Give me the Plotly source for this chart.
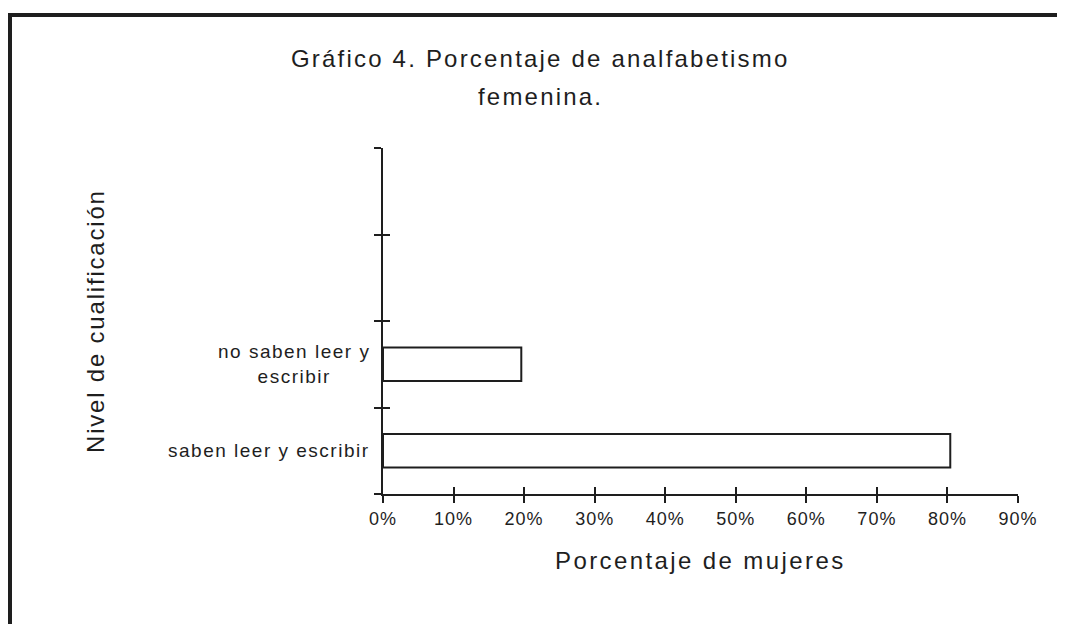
import plotly.graph_objects as go

# ---- data ----
categories = ["saben leer y escribir", "no saben leer y<br>escribir"]
values = [80.4, 19.6]
n_slots = 4  # category slots on the y axis (two left empty)
x_ticks = [0, 10, 20, 30, 40, 50, 60, 70, 80, 90]
x_tick_labels = [f"{v}%" for v in x_ticks]
title_lines = ["Gráfico 4. Porcentaje de analfabetismo", "femenina."]
x_title = "Porcentaje de mujeres"
y_title = "Nivel de cualificación"

FONT = "Liberation Sans, Arial, sans-serif"
INK = "#1e1e1e"


def spaced(text, px):
    return f'<span style="letter-spacing:{px}px">{text}</span>'


y_pos = list(range(len(categories)))
boundaries = [i - 0.5 for i in range(n_slots + 1)]

# page body has an 8px margin: the figure is drawn 8px in from the corner
OFF = 8
W, H = 1065 - OFF, 624 - OFF
ML, MT = 383 - OFF, 148 - OFF
MR = W - (1018 - OFF)
MB = H - (494 - OFF)
PW, PH = W - ML - MR, H - MT - MB

fig = go.Figure()
fig.add_trace(go.Bar(
    x=values, y=y_pos, orientation="h", width=0.39,
    marker=dict(color="white", line=dict(color=INK, width=2)),
    hoverinfo="skip", showlegend=False,
))
# invisible trace on overlay axes so their inward ticks are drawn
fig.add_trace(go.Scatter(x=[], y=[], xaxis="x2", yaxis="y2",
                         showlegend=False, hoverinfo="skip"))

axis_common = dict(showgrid=False, zeroline=False, tickcolor=INK,
                   tickwidth=2, ticklen=7)

fig.update_layout(
    width=W, height=H,
    margin=dict(l=ML, r=MR, t=MT, b=MB, pad=0),
    paper_bgcolor="white", plot_bgcolor="white",
    font=dict(family=FONT, color=INK, size=18),
    xaxis=dict(range=[0, 90], tickvals=x_ticks,
               ticktext=[spaced(t, 1) for t in x_tick_labels],
               ticks="outside", showline=True, linecolor=INK, linewidth=2,
               tickfont=dict(size=18, family=FONT, color=INK),
               ticklabelstandoff=0, anchor="y", **axis_common),
    xaxis2=dict(range=[0, 90], overlaying="x", anchor="y2", side="bottom",
                tickvals=x_ticks, ticks="inside", showticklabels=False,
                showline=False, **axis_common),
    yaxis=dict(range=[boundaries[0], boundaries[-1]], tickvals=boundaries,
               ticks="outside", showticklabels=False, showline=True,
               linecolor=INK, linewidth=2, anchor="x", **axis_common),
    yaxis2=dict(range=[boundaries[0], boundaries[-1]], overlaying="y",
                anchor="x2", side="left", tickvals=boundaries, ticks="inside",
                showticklabels=False, showline=False, **axis_common),
)

ann = []
# category labels
for yi, cat in zip(y_pos, categories):
    ann.append(dict(text=spaced(cat, 1.5), x=0, xref="paper", xanchor="right",
                    xshift=-11, y=yi, yref="y", yanchor="middle",
                    align="center", showarrow=False,
                    font=dict(size=19, family=FONT, color=INK)))
# title lines
title_cx = 540 - 383
for line, cy in zip(title_lines, [58, 96]):
    ann.append(dict(text=spaced(line, 2.2), x=0, xref="paper", xshift=title_cx,
                    xanchor="center", y=1, yref="paper", yshift=148 - cy,
                    yanchor="middle", showarrow=False,
                    font=dict(size=24, family=FONT, color=INK)))
# axis titles
ann.append(dict(text=spaced(x_title, 2.4), x=0.5, xref="paper", xanchor="center",
                y=0, yref="paper", yanchor="middle", yshift=-(560 - 494),
                showarrow=False, font=dict(size=24, family=FONT, color=INK)))
ann.append(dict(text=spaced(y_title, 1.8), x=0, xref="paper", xshift=95 - 383,
                xanchor="center", y=0.5, yref="paper", yanchor="middle",
                textangle=-90, showarrow=False,
                font=dict(size=24, family=FONT, color=INK)))
fig.update_layout(annotations=ann)


# scanned page frame (left and top rules), positions in page pixels
def px_x(p):
    return (p - OFF - ML) / PW


def px_y(p):
    return (H - MB - (p - OFF)) / PH


fig.add_shape(type="line", xref="paper", yref="paper",
              x0=px_x(10), x1=px_x(10), y0=px_y(13), y1=px_y(640),
              line=dict(color=INK, width=4))
fig.add_shape(type="line", xref="paper", yref="paper",
              x0=px_x(8), x1=px_x(1080), y0=px_y(15), y1=px_y(15),
              line=dict(color=INK, width=4))

fig.write_html("out.html")
